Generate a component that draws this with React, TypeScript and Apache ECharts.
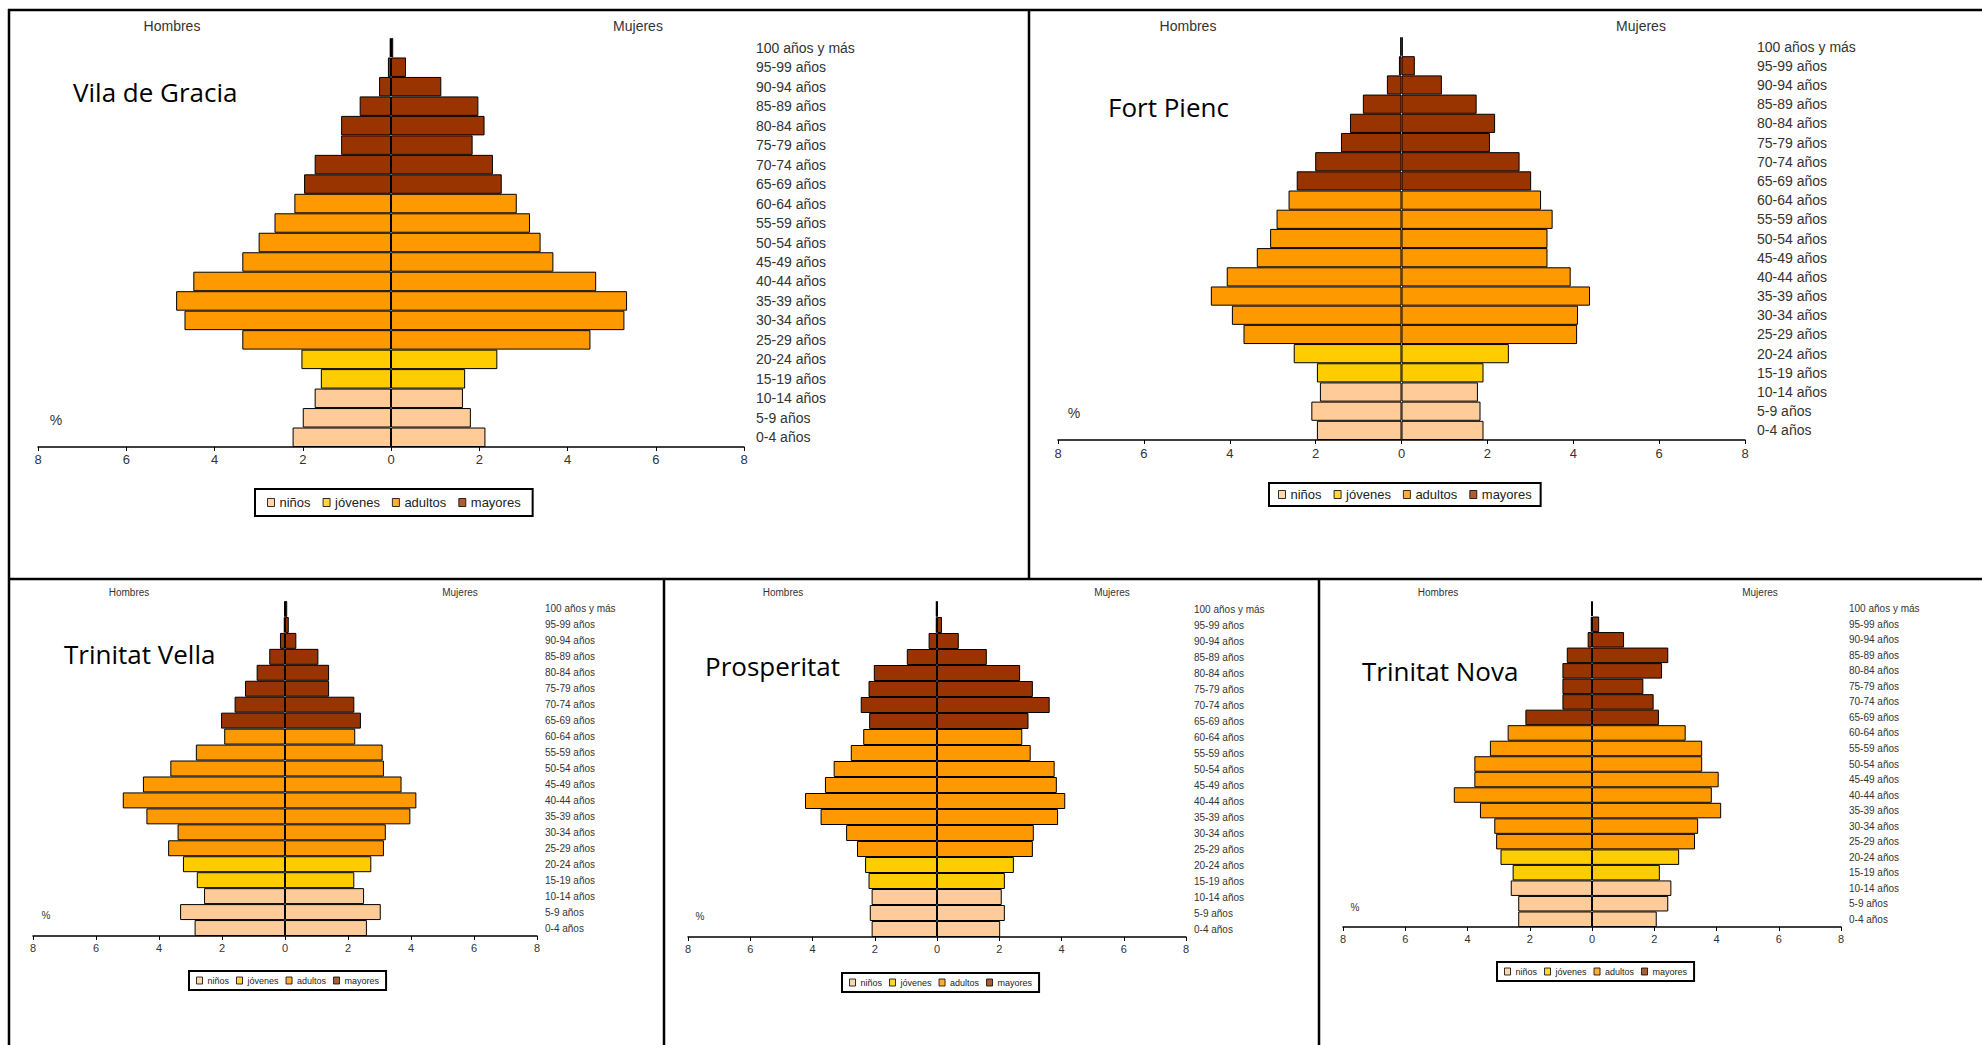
import React, { useEffect, useRef } from 'react';
import * as echarts from 'echarts';

// ---------- DATA ----------
// age groups, bottom (0-4) to top (100+)
const ageLabels = [
  '0-4 años', '5-9 años', '10-14 años', '15-19 años', '20-24 años', '25-29 años',
  '30-34 años', '35-39 años', '40-44 años', '45-49 años', '50-54 años', '55-59 años',
  '60-64 años', '65-69 años', '70-74 años', '75-79 años', '80-84 años', '85-89 años',
  '90-94 años', '95-99 años', '100 años y más',
];
// broad group of each age row: 0 niños, 1 jóvenes, 2 adultos, 3 mayores
const ageGroupIndex = [0, 0, 0, 1, 1, 2, 2, 2, 2, 2, 2, 2, 2, 3, 3, 3, 3, 3, 3, 3, 3];
const groupNames = ['niños', 'jóvenes', 'adultos', 'mayores'];
const sideNames = ['Hombres', 'Mujeres'];
const districtNames = ['Vila de Gracia', 'Fort Pienc', 'Trinitat Vella', 'Prosperitat', 'Trinitat Nova'];
const axisTickValues = [-8, -6, -4, -2, 0, 2, 4, 6, 8];

// % of population, bottom (0-4) to top (100+)
const vilaHombres = [2.23, 2.0, 1.73, 1.59, 2.03, 3.37, 4.68, 4.87, 4.48, 3.37, 3.0, 2.64, 2.19, 1.97, 1.73, 1.13, 1.13, 0.71, 0.27, 0.07, 0.03];
const vilaMujeres = [2.14, 1.81, 1.63, 1.68, 2.41, 4.52, 5.29, 5.35, 4.65, 3.68, 3.39, 3.15, 2.85, 2.51, 2.31, 1.85, 2.12, 1.98, 1.14, 0.34, 0.05];

const fortHombres = [1.97, 2.1, 1.9, 1.97, 2.51, 3.68, 3.95, 4.44, 4.07, 3.37, 3.06, 2.91, 2.63, 2.44, 2.01, 1.41, 1.2, 0.9, 0.34, 0.06, 0.03];
const fortMujeres = [1.91, 1.84, 1.78, 1.91, 2.5, 4.09, 4.11, 4.39, 3.94, 3.4, 3.4, 3.52, 3.25, 3.02, 2.75, 2.06, 2.18, 1.75, 0.94, 0.31, 0.03];

const tvellaHombres = [2.87, 3.33, 2.57, 2.8, 3.24, 3.71, 3.41, 4.4, 5.15, 4.51, 3.64, 2.83, 1.93, 2.03, 1.6, 1.27, 0.9, 0.5, 0.16, 0.04, 0.02];
const tvellaMujeres = [2.6, 3.04, 2.51, 2.2, 2.74, 3.14, 3.2, 3.98, 4.17, 3.7, 3.14, 3.1, 2.23, 2.41, 2.2, 1.4, 1.4, 1.06, 0.36, 0.12, 0.07];

const prospHombres = [2.1, 2.16, 2.1, 2.2, 2.31, 2.57, 2.92, 3.74, 4.24, 3.6, 3.32, 2.77, 2.37, 2.18, 2.45, 2.2, 2.03, 0.97, 0.27, 0.04, 0.04];
const prospMujeres = [2.03, 2.18, 2.08, 2.18, 2.47, 3.08, 3.11, 3.89, 4.12, 3.85, 3.78, 3.01, 2.74, 2.94, 3.62, 3.08, 2.67, 1.6, 0.7, 0.16, 0.03];

const tnovaHombres = [2.37, 2.37, 2.61, 2.55, 2.94, 3.08, 3.14, 3.6, 4.44, 3.78, 3.78, 3.28, 2.71, 2.14, 0.95, 0.95, 0.95, 0.81, 0.14, 0.04, 0.03];
const tnovaMujeres = [2.08, 2.45, 2.55, 2.18, 2.8, 3.31, 3.41, 4.15, 3.85, 4.07, 3.54, 3.54, 3.01, 2.15, 1.98, 1.65, 2.25, 2.45, 1.03, 0.23, 0.03];

const districtHombres = [vilaHombres, fortHombres, tvellaHombres, prospHombres, tnovaHombres];
const districtMujeres = [vilaMujeres, fortMujeres, tvellaMujeres, prospMujeres, tnovaMujeres];

// ---------- STYLE / LAYOUT ----------
const groupColors = ['#FFCC99', '#FFCC00', '#FF9900', '#993300'];
const FONT = '"Liberation Sans", Arial, sans-serif';
const TITLE_FONT = '"Open Sans", "Noto Sans", sans-serif';

type Layout = {
  grid: [number, number, number, number];
  fs: number; tickFs: number; xMargin: number; yMargin: number;
  men: [number, number]; women: [number, number]; pct: [number, number];
  title: [number, number];
  legend: { left: number; top: number; fs: number; iw: number; ih: number; gap: number; pad: [number, number] };
};

const layouts: Layout[] = [
  { grid: [38, 38, 706, 409], fs: 14, tickFs: 13, xMargin: 6, yMargin: 12, men: [172, 26], women: [638, 26], pct: [56, 420], title: [73, 92],
    legend: { left: 255, top: 489, fs: 13, iw: 7, ih: 8, gap: 12, pad: [7, 12] } },
  { grid: [1058, 37, 687, 403], fs: 14, tickFs: 13, xMargin: 7, yMargin: 12, men: [1188, 26], women: [1641, 26], pct: [1074, 413], title: [1108, 107],
    legend: { left: 1269, top: 483, fs: 13, iw: 7, ih: 8, gap: 12, pad: [5, 9] } },
  { grid: [33, 601, 504, 335], fs: 10, tickFs: 11, xMargin: 6, yMargin: 8, men: [129, 592], women: [460, 592], pct: [46, 915], title: [64, 654],
    legend: { left: 189, top: 971, fs: 9, iw: 6, ih: 7, gap: 7, pad: [5, 7] } },
  { grid: [688, 601, 498, 336], fs: 10, tickFs: 11, xMargin: 6, yMargin: 8, men: [783, 592], women: [1112, 592], pct: [700, 916], title: [705, 666],
    legend: { left: 842, top: 973, fs: 9, iw: 6, ih: 7, gap: 7, pad: [5, 7] } },
  { grid: [1343, 601, 498, 326], fs: 10, tickFs: 11, xMargin: 6, yMargin: 8, men: [1438, 592], women: [1760, 592], pct: [1355, 907], title: [1362, 671],
    legend: { left: 1497, top: 962, fs: 9, iw: 6, ih: 7, gap: 7, pad: [5, 7] } },
];

function buildOption() {
  const grid: any[] = [];
  const xAxis: any[] = [];
  const yAxis: any[] = [];
  const series: any[] = [];
  const legend: any[] = [];
  const graphic: any[] = [];

  const textEl = (x: number, y: number, text: string, fontSize: number, family: string, fill: string, align = 'center') => ({
    type: 'text', x, y, silent: true,
    style: { text, fontSize, fontFamily: family, fill, textAlign: align, textVerticalAlign: 'middle' },
  });

  layouts.forEach((L, i) => {
    grid.push({ left: L.grid[0], top: L.grid[1], width: L.grid[2], height: L.grid[3], containLabel: false });
    xAxis.push({
      gridIndex: i, type: 'value', min: axisTickValues[0], max: axisTickValues[axisTickValues.length - 1], interval: 2,
      axisLine: { show: true, onZero: false, lineStyle: { color: '#000', width: 1.5 } },
      axisTick: { show: true, length: 4, lineStyle: { color: '#000', width: 1 } },
      splitLine: { show: false },
      axisLabel: { formatter: (v: number) => String(Math.abs(v)), fontSize: L.tickFs, color: '#333', margin: L.xMargin, fontFamily: FONT },
    });
    yAxis.push({
      gridIndex: i, type: 'category', data: ageLabels, position: 'right',
      axisLine: { show: false, onZero: false }, axisTick: { show: false }, splitLine: { show: false },
      axisLabel: { interval: 0, margin: L.yMargin, fontSize: L.fs, color: '#333', fontFamily: FONT, align: 'left' },
    });
    const sides = [districtHombres[i], districtMujeres[i]];
    sides.forEach((vals, s) => {
      series.push({
        type: 'bar', name: sideNames[s], xAxisIndex: i, yAxisIndex: i, silent: true,
        barCategoryGap: '0%', barGap: '-100%',
        itemStyle: { borderColor: '#000', borderWidth: 1 },
        data: vals.map((v, k) => ({ value: s === 0 ? -v : v, itemStyle: { color: groupColors[ageGroupIndex[k]] } })),
      });
    });
    legend.push({
      left: L.legend.left, top: L.legend.top, orient: 'horizontal', data: groupNames, icon: 'rect',
      itemWidth: L.legend.iw, itemHeight: L.legend.ih, itemGap: L.legend.gap, padding: L.legend.pad,
      borderColor: '#000', borderWidth: 2, selectedMode: false,
      itemStyle: { borderColor: '#000', borderWidth: 1 },
      textStyle: { fontSize: L.legend.fs, color: '#222', fontFamily: FONT, padding: [0, 0, 0, 0] },
    });
    graphic.push(textEl(L.men[0], L.men[1], sideNames[0], L.fs, FONT, '#333'));
    graphic.push(textEl(L.women[0], L.women[1], sideNames[1], L.fs, FONT, '#333'));
    graphic.push(textEl(L.pct[0], L.pct[1], '%', L.fs, FONT, '#333'));
    graphic.push(textEl(L.title[0], L.title[1], districtNames[i], 26, TITLE_FONT, '#000', 'left'));
  });

  groupNames.forEach((g, k) => {
    series.push({ type: 'scatter', name: g, xAxisIndex: 0, yAxisIndex: 0, data: [], itemStyle: { color: groupColors[k] } });
  });

  const line = (x1: number, y1: number, x2: number, y2: number) => ({
    type: 'line', silent: true, shape: { x1, y1, x2, y2 }, style: { stroke: '#000', lineWidth: 2.5 },
  });
  graphic.push(line(8, 10, 1982, 10));
  graphic.push(line(9, 9, 9, 1045));
  graphic.push(line(8, 579, 1982, 579));
  graphic.push(line(1029, 10, 1029, 579));
  graphic.push(line(664, 579, 664, 1045));
  graphic.push(line(1319, 579, 1319, 1045));

  return { animation: false, backgroundColor: '#fff', grid, xAxis, yAxis, series, legend, graphic };
}

export default function App() {
  const ref = useRef<HTMLDivElement>(null);
  useEffect(() => {
    if (!ref.current) return;
    const chart = echarts.init(ref.current, undefined, { renderer: 'svg' });
    chart.setOption(buildOption() as any);
    return () => chart.dispose();
  }, []);
  return <div ref={ref} style={{ position: 'absolute', left: 0, top: 0, width: 1982, height: 1045, background: '#fff' }} />;
}
